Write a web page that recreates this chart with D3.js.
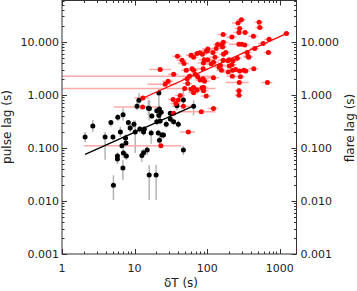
<!DOCTYPE html>
<html>
<head>
<meta charset="utf-8">
<script src="https://cdn.jsdelivr.net/npm/d3@7"></script>
<style>
  body { margin: 0; background: #fff; }
  svg text { font-family: "DejaVu Sans", sans-serif; fill: #222; }
</style>
</head>
<body>
<svg id="chart" width="357" height="291"></svg>
<script>
// pulse lag (black) : dT, lag, lag low, lag high
var pulseX  = [2.08, 2.66, 3.92, 4.72, 5.03, 5.87, 6.94, 6.37, 8.2, 8.69, 9.8, 10.2, 11.8, 10.8, 13.6, 16.0, 16.9, 21.2, 22.0, 23.8,
               20.2, 22.0, 23.3, 21.6, 22.5, 20.2, 27.3, 31.0, 34.5, 40.0, 38.3, 47.0, 65.0, 7.0, 6.7, 5.8, 5.8, 7.7, 6.9, 5.11,
               12.6, 13.3, 14.9, 15.9, 19.8, 7.5, 7.6, 11.5, 15.5, 21.6, 47.0, 17.3, 31.0, 25.0, 13.3];
var pulseY  = [0.16, 0.26, 0.16, 0.30, 0.16, 0.38, 0.42, 0.20, 0.30, 0.236, 0.28, 0.20, 0.226, 0.61, 0.226, 0.55, 0.19, 0.19, 0.14, 0.175,
               0.50, 0.54, 0.47, 0.41, 0.32, 0.31, 0.28, 0.35, 0.31, 0.28, 0.62, 0.091, 0.61, 0.080, 0.11, 0.070, 0.062, 0.070, 0.042, 0.0198,
               0.072, 0.081, 0.091, 0.031, 0.031, 0.153, 0.124, 0.79, 0.56, 1.08, 0.80, 0.40, 0.45, 0.175, 0.20];
var pulseLo = [0.128, 0.20, 0.06, 0.25, 0.14, 0.32, 0.33, 0.16, 0.25, 0.20, 0.24, 0.08, 0.19, 0.52, 0.19, 0.33, 0.12, 0.17, 0.11, 0.15,
               0.41, 0.45, 0.40, 0.35, 0.28, 0.27, 0.24, 0.30, 0.27, 0.24, 0.52, 0.073, 0.41, 0.065, 0.095, 0.059, 0.049, 0.059, 0.0248, 0.0104,
               0.054, 0.072, 0.073, 0.0104, 0.0104, 0.13, 0.108, 0.64, 0.41, 0.52, 0.64, 0.35, 0.40, 0.15, 0.17];
var pulseHi = [0.20, 0.334, 0.20, 0.334, 0.18, 0.43, 0.56, 0.25, 0.33, 0.28, 0.33, 0.33, 0.26, 0.79, 0.26, 0.80, 0.22, 0.22, 0.17, 0.20,
               0.61, 0.64, 0.56, 0.49, 0.38, 0.36, 0.33, 0.40, 0.36, 0.33, 0.76, 0.11, 0.79, 0.095, 0.12, 0.083, 0.070, 0.083, 0.059, 0.0306,
               0.091, 0.095, 0.108, 0.0475, 0.0475, 0.18, 0.145, 1.08, 0.79, 1.33, 1.23, 0.45, 0.50, 0.20, 0.24];

// flare lag (red) : dT, lag, dT low, dT high
var flareX  = [296, 266, 520, 530, 280, 274, 333, 433, 1236, 713, 590, 452, 274, 299, 329, 166, 219, 167, 158, 163,
               139, 133, 120, 102, 97, 86, 168, 180, 355, 366, 373, 697, 260, 227, 202, 192, 166, 152, 128, 122,
               114, 102, 89, 88, 146, 157, 202, 219, 224, 195, 246, 280, 319, 339, 438, 222, 287, 277, 676, 274,
               274, 122, 92, 88, 85, 89, 83, 122, 22.5, 34.5, 29, 39, 45, 48, 51.5, 53, 60, 65, 72.5, 79,
               91, 100, 62, 65, 68.6, 74, 80, 57, 54, 49, 60, 65, 72.5, 89, 97, 42.6, 40, 34, 37, 34.5,
               13, 23, 12.9, 55, 47, 26.4, 65];
var flareY  = [26, 22.7, 23.4, 18.5, 17.8, 14.9, 14.9, 12.7, 14.3, 11.2, 9.3, 7.5, 9.0, 9.0, 8.7, 13.7, 12.3, 9.8, 8.7, 8.0,
               8.9, 7.5, 6.3, 7.3, 6.7, 5.8, 5.8, 6.3, 6.3, 5.35, 5.1, 6.3, 4.9, 4.4, 4.6, 4.4, 4.5, 3.6, 5.1, 4.1,
               3.8, 4.6, 4.0, 3.1, 3.3, 2.9, 3.5, 3.7, 2.9, 2.7, 3.0, 2.8, 2.9, 2.8, 3.1, 2.25, 2.2, 1.7, 1.7, 1.2,
               0.98, 2.1, 1.8, 2.0, 1.36, 1.2, 0.48, 0.55, 3.0, 2.45, 1.8, 5.35, 4.5, 3.9, 2.9, 2.0, 5.6, 5.1, 6.0, 6.2,
               4.6, 6.7, 3.1, 2.9, 2.45, 2.2, 1.9, 2.25, 1.64, 1.32, 1.27, 1.09, 1.23, 1.38, 0.95, 0.97, 0.80, 0.82, 0.69, 0.45,
               0.87, 0.11, 0.59, 0.20, 0.61, 1.59, 1.38];
var flareLo = [255, 220, 450, 460, 240, 230, 290, 370, 1100, 610, 500, 390, 200, 260, 280, 140, 185, 140, 135, 140,
               120, 110, 100, 85, 82, 72, 145, 155, 300, 310, 320, 600, 220, 195, 170, 165, 140, 125, 108, 100,
               95, 85, 74, 72, 125, 135, 170, 185, 190, 160, 210, 240, 275, 290, 370, 185, 245, 180, 560, 240,
               240, 100, 75, 72, 70, 74, 40, 102, 16, 29, 24, 33, 38, 40, 44, 45, 51, 55, 62, 67,
               77, 85, 52, 55, 58, 63, 68, 0.5, 46, 0.5, 51, 55, 62, 75, 82, 36, 34, 29, 31, 29,
               10, 2, 5.2, 42, 33, 15, 55];
var flareHi = [340, 300, 590, 600, 320, 320, 375, 500, 1370, 810, 680, 515, 350, 340, 380, 190, 255, 195, 180, 185,
               160, 155, 140, 120, 112, 100, 190, 205, 410, 420, 425, 790, 300, 260, 235, 220, 190, 180, 148, 145,
               135, 120, 104, 104, 168, 180, 235, 255, 258, 230, 282, 320, 365, 390, 505, 260, 330, 375, 790, 308,
               308, 145, 110, 104, 100, 104, 130, 142, 32, 40, 34, 45, 52, 56, 59, 61, 69, 75, 83, 91,
               105, 115, 72, 75, 79, 85, 92, 125, 62, 130, 69, 75, 83, 103, 112, 49, 46, 39, 43, 40,
               16, 44, 20.6, 68, 62, 38, 75];

// power law fits (end points)
var pulseFitX = [2.08, 65];
var pulseFitY = [0.0755, 0.62];
var flareFitX = [13.6, 1236];
var flareFitY = [0.89, 14.3];

var xTicks = [1, 10, 100, 1000];
var yTicks = [0.001, 0.01, 0.1, 1, 10];
var yTickLabels = ["0.001", "0.010", "0.100", "1.000", "10.000"];

var svg = d3.select("#chart");
var plotL = 62, plotR = 296.5, plotT = 0.5, plotB = 254;

var x = d3.scaleLog().domain([1, 1700]).range([plotL, plotR]);
var y = d3.scaleLog().domain([0.001, 60]).range([plotB, plotT]);

svg.append("clipPath").attr("id", "clip")
    .append("rect").attr("x", plotL).attr("y", plotT)
    .attr("width", plotR - plotL).attr("height", plotB - plotT);

var plot = svg.append("g").attr("clip-path", "url(#clip)");

var pulse = pulseX.map(function (d, i) {
    return {x: d, y: pulseY[i], lo: pulseLo[i], hi: pulseHi[i]};
});
var flare = flareX.map(function (d, i) {
    return {x: d, y: flareY[i], lo: Math.max(flareLo[i], 1), hi: flareHi[i]};
});

// error bars first, dots on top
plot.selectAll(".perr").data(pulse).enter().append("line")
    .attr("x1", d => x(d.x)).attr("x2", d => x(d.x))
    .attr("y1", d => y(d.lo)).attr("y2", d => y(d.hi))
    .attr("stroke", "#b4b4b4").attr("stroke-width", 1.5);

plot.selectAll(".ferr").data(flare).enter().append("line")
    .attr("x1", d => x(d.lo)).attr("x2", d => x(d.hi))
    .attr("y1", d => y(d.y)).attr("y2", d => y(d.y))
    .attr("stroke", "#ffa8a8").attr("stroke-width", 1.5);

plot.selectAll(".pdot").data(pulse).enter().append("circle")
    .attr("cx", d => x(d.x)).attr("cy", d => y(d.y)).attr("r", 2.5)
    .attr("fill", "#000");

plot.selectAll(".fdot").data(flare).enter().append("circle")
    .attr("cx", d => x(d.x)).attr("cy", d => y(d.y)).attr("r", 2.5)
    .attr("fill", "#ff0000");

var fitLine = d3.line().x(d => x(d[0])).y(d => y(d[1]));
plot.append("path")
    .attr("d", fitLine(d3.zip(pulseFitX, pulseFitY)))
    .attr("stroke", "#000").attr("stroke-width", 1.3).attr("fill", "none");
plot.append("path")
    .attr("d", fitLine(d3.zip(flareFitX, flareFitY)))
    .attr("stroke", "#ff0000").attr("stroke-width", 1.3).attr("fill", "none");

// axes: box with inward ticks on all sides
function logTicks(scale) {
    var dom = scale.domain(), out = [];
    for (var p = Math.floor(Math.log10(dom[0])); p <= Math.ceil(Math.log10(dom[1])); p++) {
        for (var k = 1; k < 10; k++) {
            var v = k * Math.pow(10, p);
            if (v >= dom[0] * 0.999 && v <= dom[1] * 1.001) out.push({v: v, major: k == 1});
        }
    }
    return out;
}
var axisColor = "#333";
var ax = svg.append("g").attr("stroke", axisColor).attr("stroke-width", 1);

ax.append("rect").attr("x", plotL).attr("y", plotT)
    .attr("width", plotR - plotL).attr("height", plotB - plotT).attr("fill", "none");

logTicks(x).forEach(function (t) {
    var px = Math.round(x(t.v)) + 0.5, len = t.major ? 5 : 2.5;
    ax.append("line").attr("x1", px).attr("x2", px).attr("y1", plotB).attr("y2", plotB - len);
    ax.append("line").attr("x1", px).attr("x2", px).attr("y1", plotT).attr("y2", plotT + len);
});
logTicks(y).forEach(function (t) {
    var py = Math.round(y(t.v)) + 0.5, len = t.major ? 5 : 2.5;
    ax.append("line").attr("x1", plotL).attr("x2", plotL + len).attr("y1", py).attr("y2", py);
    ax.append("line").attr("x1", plotR).attr("x2", plotR - len).attr("y1", py).attr("y2", py);
});

svg.selectAll(".xlab").data(xTicks).enter().append("text")
    .attr("x", d => x(d)).attr("y", 272)
    .attr("text-anchor", "middle").attr("font-size", 11)
    .text(d => d);

yTicks.forEach(function (v, i) {
    svg.append("text").attr("x", plotL - 3).attr("y", y(v) + 4)
        .attr("text-anchor", "end").attr("font-size", 11).text(yTickLabels[i]);
    svg.append("text").attr("x", plotR + 4).attr("y", y(v) + 4)
        .attr("text-anchor", "start").attr("font-size", 11).text(yTickLabels[i]);
});

svg.append("text").attr("x", 181).attr("y", 287)
    .attr("text-anchor", "middle").attr("font-size", 12).text("δT (s)");
svg.append("text").attr("transform", "translate(11,127) rotate(-90)")
    .attr("text-anchor", "middle").attr("font-size", 12).text("pulse lag (s)");
svg.append("text").attr("transform", "translate(354,128) rotate(-90)")
    .attr("text-anchor", "middle").attr("font-size", 12).text("flare lag (s)");
</script>
</body>
</html>
